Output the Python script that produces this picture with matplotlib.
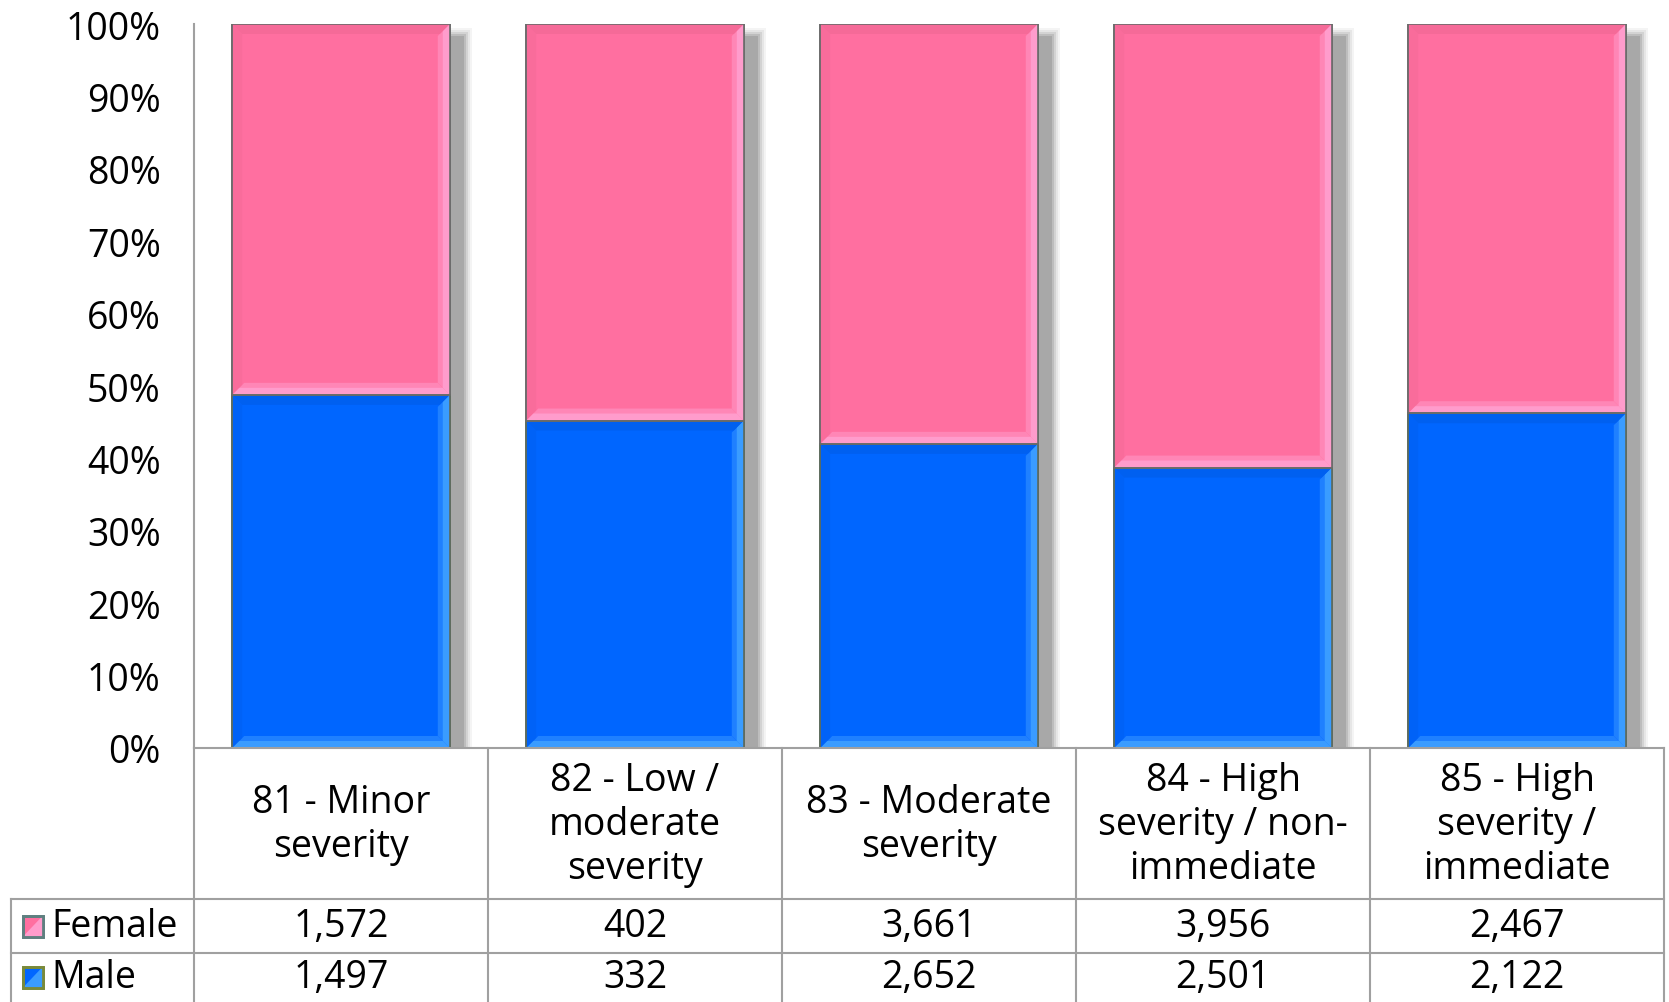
import matplotlib
matplotlib.use("Agg")
import matplotlib.pyplot as plt
from matplotlib.patches import Polygon, Rectangle
import numpy as np

categories = ["81 - Minor\nseverity", "82 - Low /\nmoderate\nseverity", "83 - Moderate\nseverity",
              "84 - High\nseverity / non-\nimmediate", "85 - High\nseverity /\nimmediate"]
female = [1572, 402, 3661, 3956, 2467]
male = [1497, 332, 2652, 2501, 2122]
yticks = [0, 0.1, 0.2, 0.3, 0.4, 0.5, 0.6, 0.7, 0.8, 0.9, 1.0]

plt.rcParams['font.family'] = ['Open Sans', 'DejaVu Sans']
FS = 27

W, H = 1669, 1003
fig = plt.figure(figsize=(W / 100, H / 100), dpi=100)
ax_l, ax_r, ax_t, ax_b = 194, 1664, 25, 749
ax = fig.add_axes([ax_l / W, 1 - ax_b / H, (ax_r - ax_l) / W, (ax_b - ax_t) / H])

fem = np.array(female, float)
mal = np.array(male, float)
tot = fem + mal
mp = mal / tot
fp = fem / tot
x = np.arange(len(categories))
bw = 0.74

ax.set_xlim(-0.5, len(categories) - 0.5)
ax.set_ylim(0, 1)

upx = len(categories) / (ax_r - ax_l)
upy = 1.0 / (ax_b - ax_t)

# soft drop shadow
for grow, a in [(8, 0.12), (6, 0.18), (4, 0.3), (2, 0.5), (0, 1.0)]:
    ax.bar(x + 14 * upx, 1 - 12 * upy + grow * upy, width=bw + grow * 2 * upx,
           bottom=0, color="#a8a8a8", alpha=a, zorder=1, linewidth=0)

bm = ax.bar(x, mp, width=bw, color="#0066ff", edgecolor="#5d6b5d", linewidth=1.2, zorder=3)
bf = ax.bar(x, fp, width=bw, bottom=mp, color="#ff6fa0", edgecolor="#6b6b6b", linewidth=1.2, zorder=3)

def bevel(rect, light, mid, dark):
    x0, y0 = rect.get_x(), rect.get_y()
    w, h = rect.get_width(), rect.get_height()
    x1, y1 = x0 + w, y0 + h
    for b, col in [(12, mid), (7, light)]:
        bx, by = b * upx, b * upy
        ax.add_patch(Polygon([(x1, y0), (x1, y1), (x1 - bx, y1 - by), (x1 - bx, y0 + by)],
                             closed=True, facecolor=col, edgecolor="none", zorder=4))
        ax.add_patch(Polygon([(x0, y0), (x1, y0), (x1 - bx, y0 + by), (x0 + bx, y0 + by)],
                             closed=True, facecolor=col, edgecolor="none", zorder=4))
    bx, by = 10 * upx, 10 * upy
    ax.add_patch(Polygon([(x0, y1), (x1, y1), (x1 - bx, y1 - by), (x0 + bx, y1 - by)],
                         closed=True, facecolor=dark, edgecolor="none", zorder=4))
    ax.add_patch(Polygon([(x0, y0), (x0, y1), (x0 + bx, y1 - by), (x0 + bx, y0 + by)],
                         closed=True, facecolor=dark, edgecolor="none", zorder=4, alpha=0.5))
    ax.add_patch(Rectangle((x0, y0), w, h, facecolor="none", edgecolor=rect.get_edgecolor(),
                           linewidth=1.2, zorder=5))

for r in bm:
    bevel(r, "#3a9cff", "#1f80ff", "#0060f0")
for r in bf:
    bevel(r, "#ff9ccc", "#ff86b6", "#f56a98")

for s in ["top", "right", "bottom"]:
    ax.spines[s].set_visible(False)
ax.spines["left"].set_color("#a0a0a0")
ax.spines["left"].set_linewidth(1.5)
ax.set_yticks(yticks)
ax.set_yticklabels([f"{int(round(v * 100))}%" for v in yticks], fontsize=FS)
ax.tick_params(axis="y", length=0, pad=24)
ax.set_xticks([])

# data table
gc = "#a0a0a0"
ah = ax_b - ax_t
def ay(py):
    return (ax_b - py) / ah

y_hdr_bot = ay(900)
y_f_bot = ay(954)
y_m_bot = ay(1003)
trans = ax.get_xaxis_transform()
xl = -0.5 - (ax_l - 11) * upx
xr = len(categories) - 0.5

kw = dict(transform=trans, clip_on=False, color=gc, linewidth=1.5, zorder=6)
ax.plot([-0.5, xr], [0, 0], **kw)
ax.plot([xl, xr], [y_hdr_bot, y_hdr_bot], **kw)
ax.plot([xl, xr], [y_f_bot, y_f_bot], **kw)
ax.plot([-0.5, -0.5], [0, y_m_bot], **kw)
ax.plot([xl, xl], [y_hdr_bot, y_m_bot], **kw)
for i in range(len(categories)):
    ax.plot([i + 0.5, i + 0.5], [0, y_m_bot], **kw)

for i, c in enumerate(categories):
    ax.text(i, ay(825), c, transform=trans, ha="center", va="center", fontsize=FS,
            linespacing=1.22, clip_on=False)
    ax.text(i, ay(927), f"{female[i]:,}", transform=trans, ha="center", va="center",
            fontsize=FS, clip_on=False)
    ax.text(i, ay(978), f"{male[i]:,}", transform=trans, ha="center", va="center",
            fontsize=FS, clip_on=False)

# legend keys inside the table
ks = 20 * upx
kh = 21 * upy
kx = xl + 12 * upx
for yc, fc, lc, ec, lab in [(ay(927), "#ff6fa0", "#ff9ccc", "#5f7f80", "Female"),
                             (ay(978), "#0066ff", "#3a9cff", "#7a8a3a", "Male")]:
    ax.add_patch(Rectangle((kx, yc - kh / 2), ks, kh, transform=trans, facecolor=fc,
                           edgecolor=ec, linewidth=2, clip_on=False, zorder=7))
    ax.add_patch(Polygon([(kx + ks, yc - kh / 2), (kx + ks, yc + kh / 2), (kx, yc - kh / 2)],
                         closed=True, transform=trans, facecolor=lc, edgecolor="none",
                         clip_on=False, zorder=7))
    ax.add_patch(Rectangle((kx, yc - kh / 2), ks, kh, transform=trans, facecolor="none",
                           edgecolor=ec, linewidth=2, clip_on=False, zorder=8))
    ax.text(xl + 40 * upx, yc, lab, transform=trans, ha="left", va="center", fontsize=FS,
            clip_on=False)

fig.savefig("out.png", dpi=100)
